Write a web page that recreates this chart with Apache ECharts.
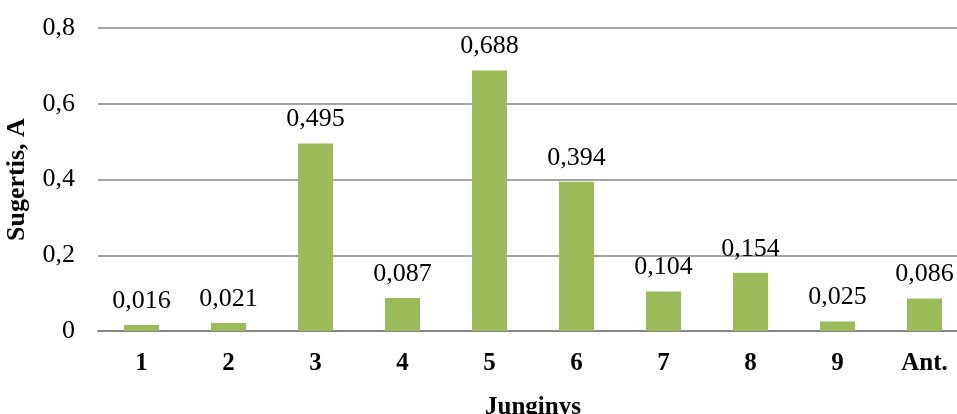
<!DOCTYPE html>
<html>
<head>
<meta charset="utf-8">
<script src="https://cdn.jsdelivr.net/npm/echarts@6/dist/echarts.min.js"></script>
<style>
  html, body { margin: 0; padding: 0; background: #fff; }
  #chart { width: 957px; height: 414px; }
</style>
</head>
<body>
<div id="chart"></div>
<script>
// Current per compound
const categories = ['1', '2', '3', '4', '5', '6', '7', '8', '9', 'Ant.'];
const currents = [0.016, 0.021, 0.495, 0.087, 0.688, 0.394, 0.104, 0.154, 0.025, 0.086];
const yTicks = [0, 0.2, 0.4, 0.6, 0.8];

const fmt = v => (v === 0 ? '0' : String(v).replace('.', ','));
const serif = '"Liberation Serif", "Times New Roman", serif';

const chart = echarts.init(document.getElementById('chart'));
chart.setOption({
  animation: false,
  grid: { left: 98, top: 28, width: 870, height: 303, containLabel: false, outerBoundsMode: 'none' },
  xAxis: {
    type: 'category',
    data: categories,
    name: 'Junginys',
    nameLocation: 'middle',
    nameGap: 64,
    nameTextStyle: { fontFamily: serif, fontWeight: 'bold', fontSize: 25, color: '#000' },
    axisLine: { lineStyle: { color: '#868686', width: 2 } },
    axisTick: { show: false },
    axisLabel: { fontFamily: serif, fontWeight: 'bold', fontSize: 25, color: '#000', margin: 20 }
  },
  yAxis: {
    type: 'value',
    min: yTicks[0],
    max: yTicks[yTicks.length - 1],
    interval: 0.2,
    name: 'Sugertis, A',
    nameLocation: 'middle',
    nameGap: 68,
    nameTextStyle: { fontFamily: serif, fontWeight: 'bold', fontSize: 26, color: '#000' },
    axisLine: { show: false },
    axisTick: { show: false },
    axisLabel: { fontFamily: serif, fontSize: 26, color: '#000', margin: 23, formatter: fmt },
    splitLine: { lineStyle: { color: '#868686', width: 1.5 } }
  },
  series: [{
    type: 'bar',
    data: currents,
    barWidth: 35,
    itemStyle: { color: '#9BBB59' },
    label: {
      show: true,
      position: 'top',
      distance: 11,
      fontFamily: serif,
      fontSize: 26,
      color: '#000',
      formatter: p => fmt(p.value)
    }
  }]
});
</script>
</body>
</html>
